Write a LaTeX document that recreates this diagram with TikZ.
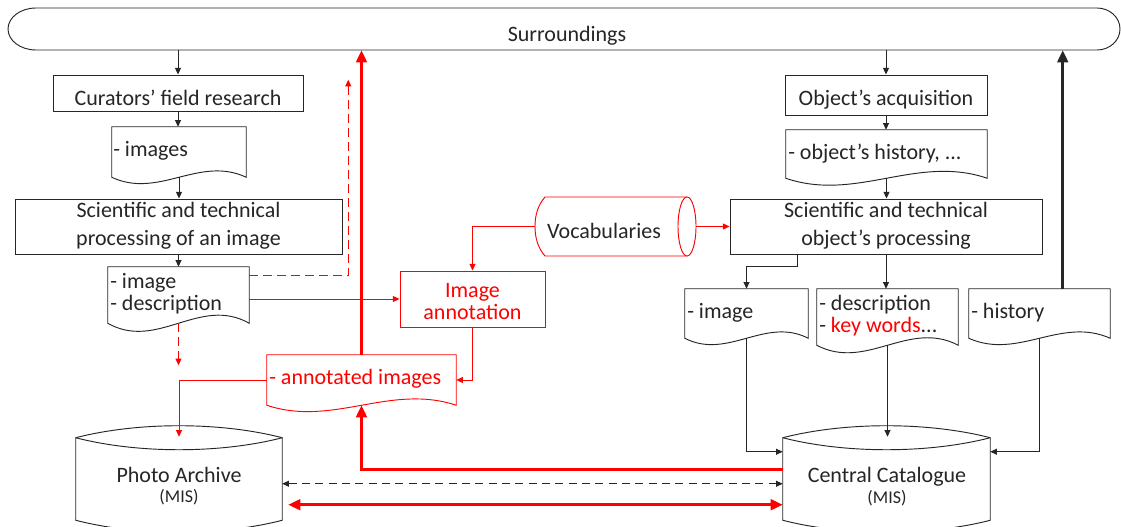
\documentclass[tikz,border=0pt]{standalone}
\usepackage{fontspec}
\setmainfont{Carlito}
\usetikzlibrary{calc,fit,arrows.meta}
\definecolor{ln}{RGB}{38,38,38}
\definecolor{rd}{RGB}{255,0,0}
\newcommand{\fs}{\fontsize{16.5}{21}\selectfont}
\newcommand{\fsm}{\fontsize{13.5}{16}\selectfont}
\newcommand{\docshape}[3]{%
  \draw[draw=#2, line width=0.7pt, fill=white] (#1.north west) -- (#1.north east) -- (#1.south east)
    .. controls ($(#1.south east)!0.35!(#1.south west)+(0,-#3)$) and ($(#1.south west)!0.35!(#1.south east)+(0,#3)$) .. (#1.south west) -- cycle;}
\newcommand{\cylshape}[1]{%
  \draw[draw=ln, line width=0.7pt, fill=white] ($(#1.north west)+(0,12)$) -- ($(#1.south west)+(0,-12)$)
    .. controls ($(#1.south west)!0.3!(#1.south east)+(0,4)$) and ($(#1.south west)!0.7!(#1.south east)+(0,4)$) .. ($(#1.south east)+(0,-12)$)
    -- ($(#1.north east)+(0,12)$)
    .. controls ($(#1.north west)!0.7!(#1.north east)+(0,-4)$) and ($(#1.north west)!0.3!(#1.north east)+(0,-4)$) .. ($(#1.north west)+(0,12)$) -- cycle;
  \draw[draw=ln, line width=0.7pt] ($(#1.north west)+(0,12)$)
    .. controls ($(#1.north west)!0.3!(#1.north east)+(0,28)$) and ($(#1.north west)!0.7!(#1.north east)+(0,28)$) .. ($(#1.north east)+(0,12)$);}
\begin{document}
\begin{tikzpicture}[x=0.75pt,y=-0.75pt,
  ln/.style={draw=ln, line width=0.7pt},
  box/.style={draw=ln, line width=0.7pt, inner sep=0pt, fill=white},
  shp/.style={inner sep=0pt},
  txt/.style={inner sep=0pt, font=\fs, text=ln, align=center},
  arr/.style={draw=ln, line width=0.7pt, -{Triangle[length=5pt,width=4.5pt]}},
  rarr/.style={draw=rd, line width=0.7pt, -{Triangle[length=5pt,width=4.5pt]}},
  rdash/.style={rarr, dash pattern=on 6.5pt off 4pt},
  rthick/.style={draw=rd, line width=1.9pt, -{Triangle[length=9pt,width=8pt]}},
  bthick/.style={draw=ln, line width=1.9pt, -{Triangle[length=9pt,width=8pt]}},
]
\useasboundingbox (0,0) rectangle (1121,527);
\fill[white] (0,0) rectangle (1121,527);

% Surroundings
\node[shp, fit={(8,8)(1120,50)}] (sur) {};
\draw[ln] (36,8) -- (1097,8) .. controls (1109.7,8) and (1120,17.4) .. (1120,29)
  .. controls (1120,40.6) and (1109.7,50) .. (1097,50) -- (36,50)
  .. controls (20.5,50) and (8,40.6) .. (8,29) .. controls (8,17.4) and (20.5,8) .. (36,8) -- cycle;
\node[txt] (sur-t) at (567,35.5) {Surroundings};

% boxes
\node[box, fit={(53,75)(303,111)}] (cur) {};
\node[txt] (cur-t) at (178,98) {Curators’ field research};
\node[box, fit={(15,199)(342,254)}] (sci1) {};
\node[txt] (sci1-t) at (178.5,226) {Scientific and technical\\processing of an image};
\node[box, draw=rd, fit={(400,271)(545,327)}] (ann) {};
\node[txt, text=rd, font=\fontsize{16.5}{16.5}\selectfont] (ann-t) at (472.5,302) {Image\\annotation};
\node[box, fit={(785,75)(987,115)}] (acq) {};
\node[txt] (acq-t) at (886,100) {Object’s acquisition};
\node[box, fit={(730,199)(1042,254)}] (sci2) {};
\node[txt] (sci2-t) at (886,226) {Scientific and technical\\object’s processing};

% documents
\node[shp, fit={(112,127)(246,177)}] (imgs) {};
\node[shp, fit={(108,267)(249,323)}] (imd) {};
\node[shp, fit={(267,355)(456,405)}] (anno) {};
\node[shp, fit={(786,130)(987,178)}] (ohist) {};
\node[shp, fit={(685,289)(808,338)}] (imgR) {};
\node[shp, fit={(817,289)(958,345)}] (desc) {};
\node[shp, fit={(969,289)(1110,338)}] (hist) {};
\docshape{imgs}{ln}{22}
\docshape{imd}{ln}{28}
\docshape{anno}{rd}{22}
\docshape{ohist}{ln}{24}
\docshape{imgR}{ln}{22}
\docshape{desc}{ln}{26}
\docshape{hist}{ln}{22}
\node[txt, anchor=west] (imgs-t) at (113,151) {- images};
\node[txt, anchor=west] (imd-t1) at (110,283) {- image};
\node[txt, anchor=west] (imd-t2) at (110,305) {- description};
\node[txt, anchor=west, text=rd] (anno-t) at (269,379) {- annotated images};
\node[txt, anchor=west] (ohist-t) at (788,154) {- object’s history, ...};
\node[txt, anchor=west] (imgR-t) at (687,313) {- image};
\node[txt, anchor=west] (desc-t1) at (819,305) {- description};
\node[txt, anchor=west] (desc-t2) at (819,327) {- {\color{rd}key words}...};
\node[txt, anchor=west] (hist-t) at (971,313) {- history};

% vocabularies
\node[shp, fit={(535,197)(696,256)}] (voc) {};
\draw[draw=rd, line width=0.7pt, fill=white] (545,197) -- (687,197) -- (687,256) -- (545,256)
  .. controls (538,248) and (535,238) .. (535,226.5) .. controls (535,215) and (538,205) .. (545,197) -- cycle;
\draw[draw=rd, line width=0.7pt, fill=white] (687,226.5) ellipse [x radius=9, y radius=29.5];
\node[txt] (voc-t) at (604,231) {Vocabularies};

% cylinders
\node[shp, fit={(76,426)(282,532)}] (pa) {};
\node[shp, fit={(783,426)(990,532)}] (cc) {};
\cylshape{pa}
\cylshape{cc}
\node[txt] (pa-t) at (179,475) {Photo Archive};
\node[txt, font=\fsm] (pa-m) at (179,497) {(MIS)};
\node[txt] (cc-t) at (887,477) {Central Catalogue};
\node[txt, font=\fsm] (cc-m) at (887,498) {(MIS)};

% left column connectors
\draw[arr] (sur.south -| cur.north) -- (cur.north);
\draw[arr] (cur.south) -- (cur.south |- imgs.north);
\draw[arr] (imgs.south) -- (imgs.south |- sci1.north);
\draw[arr] (sci1.south) -- (sci1.south |- imd.north);
\draw[rdash] (imd.south) -- ++(0,42);
\draw[rdash] ($(imd.north east)+(0,9)$) -- ++(99,0) -- ++(0,-196);
\draw[rarr] (imd.east |- ann.west) -- (ann.west);
\draw[rarr] (voc.west) -| (ann.north);
\draw[rarr] (voc.east) -- (voc.east -| sci2.west);
\draw[rarr] (ann.south) |- (anno.east);
\coordinate (paTip) at ($(pa.north)+(0,11)$);
\draw[rarr] (anno.west) -| (paTip);
\draw[rthick] (anno.north) -- (anno.north |- sur.south);
\coordinate (ccRed) at ($(cc.north west)+(0,44)$);
\draw[rthick] (ccRed) -| (anno.south);
\draw[draw=ln, line width=0.7pt, dash pattern=on 6pt off 4pt, {Triangle[length=5pt,width=4.5pt]}-{Triangle[length=5pt,width=4.5pt]}]
  ($(pa.north east)+(0,58)$) -- ($(cc.north west)+(0,58)$);
\draw[rthick, {Triangle[length=9pt,width=8pt]}-{Triangle[length=9pt,width=8pt]}]
  ($(pa.north east)+(6,79)$) -- ($(cc.north west)+(0,79)$);

% right column connectors
\draw[arr] (sur.south -| acq.north) -- (acq.north);
\draw[arr] (acq.south) -- (acq.south |- ohist.north);
\draw[arr] (ohist.south) -- (ohist.south |- sci2.north);
\draw[arr] ($(sci2.south west)+(68,0)$) -- ++(0,12) -| (imgR.north);
\draw[arr] (sci2.south) -- (sci2.south |- desc.north);
\coordinate (hTop) at ($(hist.north west)+(94,0)$);
\draw[bthick] (hTop) -- (hTop |- sur.south);
\draw[arr] (imgR.south) |- ($(cc.north west)+(0,26)$);
\coordinate (ccTip) at ($(cc.north)+(0,11)$);
\draw[arr] (desc.south) -- (desc.south |- ccTip);
\draw[arr] (hist.south) |- ($(cc.north east)+(0,26)$);
\end{tikzpicture}
\end{document}
